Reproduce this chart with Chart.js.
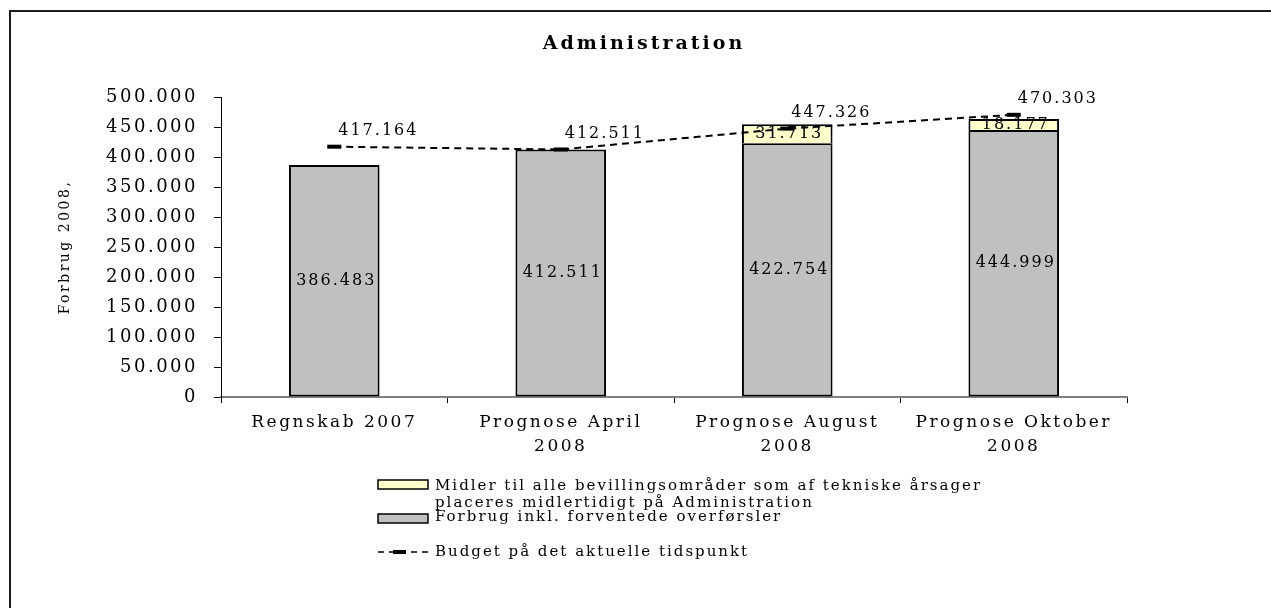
<!DOCTYPE html>
<html><head><meta charset="utf-8">
<script src="https://cdn.jsdelivr.net/npm/chart.js@4"></script>
<style>html,body{margin:0;padding:0;background:#fff;overflow:hidden}</style>
</head><body>
<canvas id="c" width="1271" height="608"></canvas>
<script>
const categories = ['Regnskab 2007', ['Prognose April', '2008'], ['Prognose August', '2008'], ['Prognose Oktober', '2008']];
const forbrug = [386483, 412511, 422754, 444999];
const midler = [null, null, 31713, 18177];
const budget = [417164, 412511, 447326, 470303];
const yMin = 0, yMax = 500000, yStep = 50000;
const titleText = 'Administration';
const yTitle = 'Forbrug 2008,';
const legendMidler = ['Midler til alle bevillingsområder som af tekniske årsager', 'placeres midlertidigt på Administration'];
const legendForbrug = 'Forbrug inkl. forventede overførsler';
const legendBudget = 'Budget på det aktuelle tidspunkt';

const FAMILY = '"DejaVu Serif", "Liberation Serif", serif';
function fmt(v) { return String(Math.round(v)).replace(/\B(?=(\d{3})+(?!\d))/g, '.'); }

const decor = {
  id: 'decor',
  beforeUpdate(chart) { chart.ctx.letterSpacing = '2.5px'; },
  beforeDraw(chart) {
    const ctx = chart.ctx;
    ctx.letterSpacing = '2.5px';
    ctx.save();
    ctx.fillStyle = '#fff';
    ctx.fillRect(0, 0, chart.width, chart.height);
    ctx.strokeStyle = '#1a1a1a';
    ctx.lineWidth = 2;
    ctx.beginPath();
    ctx.moveTo(10, chart.height + 5);
    ctx.lineTo(10, 11);
    ctx.lineTo(chart.width + 5, 11);
    ctx.stroke();
    ctx.fillStyle = '#000';
    ctx.font = 'bold 19px ' + FAMILY;
    ctx.letterSpacing = '3px';
    ctx.textAlign = 'center';
    ctx.textBaseline = 'middle';
    ctx.fillText(titleText, 644, 44);
    ctx.restore();
  },
  afterDatasetsDraw(chart) {
    const ctx = chart.ctx;
    ctx.save();
    ctx.fillStyle = '#000';
    ctx.font = '16px ' + FAMILY;
    ctx.letterSpacing = '2px';
    ctx.textBaseline = 'middle';
    chart.data.datasets.forEach((ds, di) => {
      const meta = chart.getDatasetMeta(di);
      meta.data.forEach((el, i) => {
        const v = ds.data[i];
        if (v === null || v === undefined) return;
        if (ds.type === 'line') {
          ctx.textAlign = 'left';
          ctx.fillText(fmt(v), el.x + 4, el.y - 16);
        } else {
          ctx.textAlign = 'center';
          ctx.fillText(fmt(v), el.x + 2, (el.y + el.base) / 2);
        }
      });
    });
    ctx.restore();
  },
  afterDraw(chart) {
    const ctx = chart.ctx;
    ctx.save();
    ctx.letterSpacing = '2px';
    ctx.font = '15px ' + FAMILY;
    ctx.fillStyle = '#000';
    ctx.textAlign = 'left';
    ctx.textBaseline = 'middle';
    // yellow box
    ctx.fillStyle = chart.data.datasets[2].backgroundColor;
    ctx.fillRect(378, 480, 50, 9);
    ctx.strokeStyle = '#000';
    ctx.lineWidth = 1.5;
    ctx.strokeRect(378, 480, 50, 9);
    ctx.fillStyle = '#000';
    ctx.fillText(legendMidler[0], 435, 486);
    ctx.fillText(legendMidler[1], 435, 503);
    // gray box
    ctx.fillStyle = chart.data.datasets[1].backgroundColor;
    ctx.fillRect(378, 514, 50, 9);
    ctx.strokeRect(378, 514, 50, 9);
    ctx.fillStyle = '#000';
    ctx.fillText(legendForbrug, 435, 517);
    // budget
    ctx.beginPath();
    ctx.setLineDash([6, 5]);
    ctx.lineWidth = 1.5;
    ctx.moveTo(378, 552); ctx.lineTo(428, 552);
    ctx.stroke();
    ctx.setLineDash([]);
    ctx.lineWidth = 4;
    ctx.beginPath();
    ctx.moveTo(393, 552); ctx.lineTo(406, 552);
    ctx.stroke();
    ctx.fillText(legendBudget, 435, 552);
    ctx.restore();
  }
};

new Chart(document.getElementById('c'), {
  type: 'bar',
  data: {
    labels: categories,
    datasets: [
      {
        type: 'line', label: legendBudget, data: budget, stack: 'budget',
        borderColor: '#000', borderWidth: 2, borderDash: [7, 5], fill: false, tension: 0,
        pointStyle: 'line', pointRadius: 7, pointHoverRadius: 7, pointBorderWidth: 4, pointBorderColor: '#000',
        pointBackgroundColor: '#000'
      },
      {
        label: legendForbrug, data: forbrug, stack: 's', backgroundColor: '#C0C0C0',
        borderColor: '#000', borderWidth: 2, borderSkipped: false, barPercentage: 0.4, categoryPercentage: 1
      },
      {
        label: legendMidler.join(' '), data: midler, stack: 's', backgroundColor: '#FFFFCC',
        borderColor: '#000', borderWidth: 2, borderSkipped: 'bottom', barPercentage: 0.4, categoryPercentage: 1
      }
    ]
  },
  options: {
    responsive: false,
    animation: false,
    devicePixelRatio: 1,
    layout: { padding: { top: 97, right: 144, bottom: 0, left: 0 } },
    plugins: { legend: { display: false }, tooltip: { enabled: false }, title: { display: false } },
    scales: {
      x: {
        stacked: true,
        grid: { display: true, drawOnChartArea: false, drawTicks: true, tickLength: 6, tickColor: '#000', offset: true },
        border: { display: true, color: '#808080', width: 2 },
        ticks: { color: '#000', font: { family: FAMILY, size: 17, lineHeight: 1.4 }, padding: 8, maxRotation: 0, autoSkip: false },
        afterFit(s) { s.height = 211; }
      },
      y: {
        stacked: true, min: yMin, max: yMax,
        ticks: { stepSize: yStep, callback: v => fmt(v), color: '#000', font: { family: FAMILY, size: 18 }, padding: 16 },
        grid: { drawOnChartArea: false, tickLength: 7, tickColor: '#000' },
        border: { display: true, color: '#000', width: 1 },
        title: { display: true, text: yTitle, color: '#000', font: { family: FAMILY, size: 14 }, padding: { top: 57, bottom: 0 } },
        afterFit(s) { s.width = 221; }
      }
    }
  },
  plugins: [decor]
});
</script>
</body></html>
